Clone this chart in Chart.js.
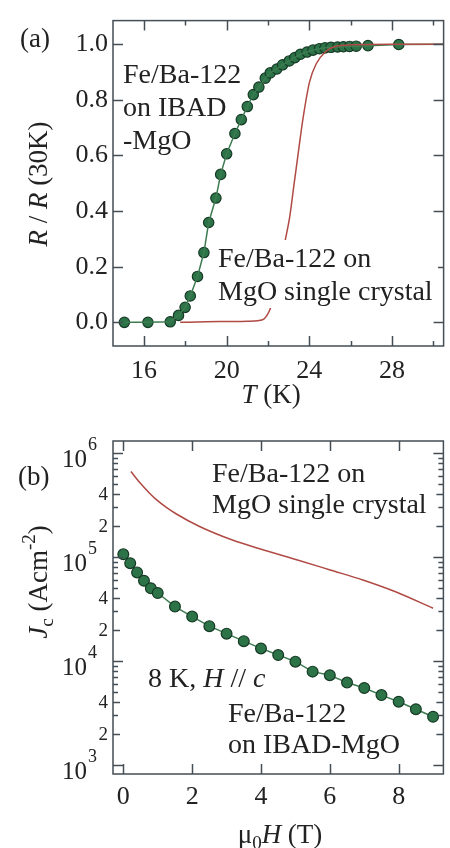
<!DOCTYPE html>
<html>
<head>
<meta charset="utf-8">
<script src="https://cdn.jsdelivr.net/npm/chart.js@4.4.1/dist/chart.umd.min.js"></script>
<style>
  html, body { margin: 0; padding: 0; background: #fff; }
  #wrap { position: relative; width: 450px; height: 848px; }
  canvas { position: absolute; left: 0; }
  #chartA { top: 0; }
  #chartB { top: 424px; }
</style>
</head>
<body>
<div id="wrap">
  <canvas id="chartA" width="450" height="424"></canvas>
  <canvas id="chartB" width="450" height="424"></canvas>
</div>
<script>
// --- panel (a): R / R(30K) vs T ---
const tempIbad = [15.05, 16.19, 17.27, 17.67, 17.99, 18.24, 18.59, 18.90, 19.13, 19.48, 19.71, 20.00, 20.40, 20.71, 21.00, 21.29, 21.56, 21.87, 22.11, 22.43, 22.71, 23.03, 23.30, 23.57, 23.89, 24.18, 24.49, 24.76, 25.05, 25.37, 25.65, 25.95, 26.27, 26.84, 28.33];
const resIbad = [0.000, 0.000, 0.002, 0.025, 0.054, 0.095, 0.165, 0.251, 0.359, 0.447, 0.532, 0.606, 0.679, 0.729, 0.776, 0.819, 0.846, 0.878, 0.897, 0.911, 0.926, 0.940, 0.952, 0.964, 0.972, 0.979, 0.984, 0.987, 0.989, 0.990, 0.991, 0.992, 0.993, 0.995, 0.999];
const ibadTailT = [30.5];
const ibadTailR = [1.0];

const tempCrystal = [17.75, 19.0, 20.0, 21.0, 21.5, 21.8, 21.95, 22.11, 22.3, 22.55, 22.82, 23.06, 23.25, 23.46, 23.7, 24.01, 24.33, 24.81, 25.29, 26.0, 28.0, 30.5];
const resCrystal = [0.000, 0.002, 0.003, 0.004, 0.006, 0.012, 0.025, 0.049, 0.100, 0.180, 0.289, 0.383, 0.490, 0.606, 0.735, 0.864, 0.929, 0.975, 0.993, 0.998, 1.000, 1.000];

const tempTicks = [16, 18, 20, 22, 24, 26, 28, 30];
const resTicks = [0, 0.2, 0.4, 0.6, 0.8, 1.0];

// --- panel (b): Jc vs mu0H at 8 K ---
const fieldIbad = [0, 0.2, 0.4, 0.6, 0.8, 1.0, 1.5, 2, 2.5, 3, 3.5, 4, 4.5, 5, 5.5, 6, 6.5, 7, 7.5, 8, 8.5, 9];
const jcIbad = [1.06e5, 8.7e4, 7.1e4, 5.9e4, 5.0e4, 4.5e4, 3.33e4, 2.67e4, 2.16e4, 1.83e4, 1.55e4, 1.32e4, 1.14e4, 9.85e3, 7.9e3, 7.3e3, 6.2e3, 5.5e3, 4.7e3, 4.06e3, 3.44e3, 2.91e3];

const fieldCrystal = [0.22, 0.49, 0.77, 0.96, 1.25, 1.53, 2.2, 3.15, 4.1, 5.06, 6.01, 6.96, 7.91, 9.0];
const jcCrystal = [6.61e5, 5.13e5, 4.07e5, 3.55e5, 2.99e5, 2.60e5, 1.97e5, 1.46e5, 1.16e5, 9.35e4, 7.5e4, 6.01e4, 4.63e4, 3.21e4];

const fieldTicks = [0, 2, 4, 6, 8];
const jcDecades = [1e3, 1e4, 1e5, 1e6];

// --- estilos ---
const SERIF = '"Liberation Serif", "Times New Roman", serif';
const axisColor = '#434e56';
const textColor = '#222';
const greenFill = '#2c7448';
const greenEdge = '#163a25';
const greenLine = '#3d7c51';
const redLine = '#b04a44';

function pts(xs, ys) { return xs.map((x, i) => ({ x: x, y: ys[i] })); }

function fontFor(r, size) {
  return (r.i ? 'italic ' : '') + Math.round(size * (r.s || 1)) + 'px ' + SERIF;
}

// dibuja texto con partes en cursiva / sub / superíndice
function drawRuns(ctx, x, y, runs, size, align) {
  let w = 0;
  runs.forEach(r => { ctx.font = fontFor(r, size); w += ctx.measureText(r.t).width; });
  let cx = align === 'center' ? x - w / 2 : x;
  ctx.textAlign = 'left';
  ctx.textBaseline = 'alphabetic';
  runs.forEach(r => {
    ctx.font = fontFor(r, size);
    ctx.fillText(r.t, cx, y + (r.dy || 0));
    cx += ctx.measureText(r.t).width;
  });
}

// marco + marcas hacia dentro en los cuatro lados
const framePlugin = {
  id: 'frame',
  afterDraw(chart, args, opts) {
    const { ctx, chartArea: a, scales } = chart;
    ctx.save();
    ctx.strokeStyle = axisColor;
    ctx.lineWidth = 1.5;
    ctx.beginPath();
    scales.x.ticks.forEach(t => {
      const px = Math.round(scales.x.getPixelForValue(t.value)) + 0.5;
      const len = opts.xLen(t.value);
      ctx.moveTo(px, a.bottom); ctx.lineTo(px, a.bottom - len);
      ctx.moveTo(px, a.top); ctx.lineTo(px, a.top + len);
    });
    scales.y.ticks.forEach(t => {
      const py = Math.round(scales.y.getPixelForValue(t.value)) + 0.5;
      const len = opts.yLen(t.value);
      ctx.moveTo(a.left, py); ctx.lineTo(a.left + len, py);
      ctx.moveTo(a.right, py); ctx.lineTo(a.right - len, py);
    });
    ctx.stroke();
    ctx.strokeRect(a.left, a.top, a.right - a.left, a.bottom - a.top);
    ctx.restore();
  }
};

// textos: títulos de ejes, etiquetas y anotaciones
const textPlugin = {
  id: 'texts',
  afterDraw(chart, args, opts) {
    const ctx = chart.ctx;
    ctx.save();
    ctx.fillStyle = textColor;
    (opts.items || []).forEach(it => {
      ctx.save();
      if (it.box) {
        ctx.fillStyle = '#fff';
        ctx.fillRect(it.box[0], it.box[1], it.box[2], it.box[3]);
        ctx.fillStyle = textColor;
      }
      if (it.rotate) {
        ctx.translate(it.x, it.y);
        ctx.rotate(-Math.PI / 2);
        drawRuns(ctx, 0, 0, it.runs, it.size, it.align);
      } else {
        drawRuns(ctx, it.x, it.y, it.runs, it.size, it.align);
      }
      ctx.restore();
    });
    if (opts.logLabels) opts.logLabels(chart, ctx);
    ctx.restore();
  }
};

// ---------- panel (a) ----------
const chartA = new Chart(document.getElementById('chartA'), {
  type: 'scatter',
  data: {
    datasets: [
      {
        label: 'crystal',
        data: pts(tempCrystal, resCrystal),
        showLine: true,
        borderColor: redLine,
        borderWidth: 1.5,
        pointRadius: 0,
        cubicInterpolationMode: 'monotone'
      },
      {
        label: 'ibad-line',
        data: pts(tempIbad.concat(ibadTailT), resIbad.concat(ibadTailR)),
        showLine: true,
        borderColor: greenLine,
        borderWidth: 1.5,
        pointRadius: 0
      },
      {
        label: 'ibad',
        data: pts(tempIbad, resIbad),
        showLine: false,
        backgroundColor: greenFill,
        borderColor: greenEdge,
        borderWidth: 1.2,
        pointRadius: 5.2
      }
    ]
  },
  options: {
    responsive: false,
    animation: false,
    layout: { padding: { left: 0, right: 1, top: 13, bottom: 0 } },
    plugins: {
      legend: { display: false },
      tooltip: { enabled: false },
      frame: {
        xLen: v => (v % 4 === 0 ? 10 : 5),
        yLen: v => 10
      },
      texts: {
        items: [
          { x: 20, y: 47, runs: [{ t: '(a)' }], size: 27 },
          { x: 271, y: 403, runs: [{ t: 'T', i: true }, { t: ' (K)' }], size: 27, align: 'center' },
          { x: 47, y: 184, rotate: true, align: 'center', size: 27,
            runs: [{ t: 'R', i: true }, { t: ' / ' }, { t: 'R', i: true }, { t: ' (30K)' }] },
          { x: 123, y: 83, runs: [{ t: 'Fe/Ba-122' }], size: 28 },
          { x: 123, y: 116, runs: [{ t: 'on IBAD' }], size: 28 },
          { x: 123, y: 149, runs: [{ t: '-MgO' }], size: 28 },
          { x: 218, y: 267, runs: [{ t: 'Fe/Ba-122 on' }], size: 28, box: [214, 240, 224, 68] },
          { x: 218, y: 300, runs: [{ t: 'MgO single crystal' }], size: 28 }
        ]
      }
    },
    scales: {
      x: {
        type: 'linear',
        min: 14.5,
        max: 30.5,
        grid: { display: false, drawTicks: false },
        border: { display: false },
        afterBuildTicks: s => { s.ticks = tempTicks.map(v => ({ value: v })); },
        afterFit: s => { s.height = 78; },
        ticks: {
          autoSkip: false,
          maxRotation: 0,
          padding: 10,
          color: textColor,
          font: { family: SERIF, size: 26 },
          callback: v => (v % 4 === 0 ? String(v) : '')
        }
      },
      y: {
        type: 'linear',
        min: -0.085,
        max: 1.085,
        grid: { display: false, drawTicks: false },
        border: { display: false },
        afterBuildTicks: s => { s.ticks = resTicks.map(v => ({ value: v })); },
        afterFit: s => { s.width = 113; },
        ticks: {
          autoSkip: false,
          padding: 5,
          color: textColor,
          font: { family: SERIF, size: 26 },
          callback: v => v.toFixed(1)
        }
      }
    }
  },
  plugins: [framePlugin, textPlugin]
});

// ---------- panel (b) ----------
const jcTicks = [];
jcDecades.forEach(d => {
  for (let m = 1; m <= 9; m++) {
    if (d * m <= 1e6) jcTicks.push(d * m);
  }
});

function mantissa(v) {
  const e = Math.floor(Math.log10(v) + 1e-9);
  return Math.round(v / Math.pow(10, e));
}

// etiquetas del eje log: 10^n y los 2, 4 pequeños
function drawLogLabels(chart, ctx) {
  const y = chart.scales.y;
  ctx.fillStyle = textColor;
  jcTicks.forEach(v => {
    const py = y.getPixelForValue(v);
    const m = mantissa(v);
    if (m === 1) {
      const exp = Math.round(Math.log10(v));
      ctx.textBaseline = 'alphabetic';
      ctx.textAlign = 'right';
      ctx.font = '25px ' + SERIF;
      ctx.fillText('10', 87, py + 14);
      ctx.textAlign = 'left';
      ctx.font = '18px ' + SERIF;
      ctx.fillText(String(exp), 88, py - 3);
    } else if (m === 2 || m === 4) {
      ctx.textAlign = 'right';
      ctx.textBaseline = 'middle';
      ctx.font = '19px ' + SERIF;
      ctx.fillText(String(m), 108, py + 1);
    }
  });
}

const chartB = new Chart(document.getElementById('chartB'), {
  type: 'scatter',
  data: {
    datasets: [
      {
        label: 'crystal',
        data: pts(fieldCrystal, jcCrystal),
        showLine: true,
        borderColor: redLine,
        borderWidth: 1.5,
        pointRadius: 0,
        cubicInterpolationMode: 'monotone'
      },
      {
        label: 'ibad',
        data: pts(fieldIbad, jcIbad),
        showLine: true,
        borderColor: greenLine,
        borderWidth: 1.5,
        backgroundColor: greenFill,
        pointBorderColor: greenEdge,
        pointBorderWidth: 1.2,
        pointRadius: 5.4
      }
    ]
  },
  options: {
    responsive: false,
    animation: false,
    layout: { padding: { left: 0, right: 2, top: 17, bottom: 0 } },
    plugins: {
      legend: { display: false },
      tooltip: { enabled: false },
      frame: {
        xLen: v => 10,
        yLen: v => {
          const m = mantissa(v);
          return m === 1 ? 10 : (m === 2 || m === 4 ? 7 : 5);
        }
      },
      texts: {
        items: [
          { x: 18, y: 61, runs: [{ t: '(b)' }], size: 27 },
          { x: 280, y: 419, align: 'center', size: 27,
            runs: [{ t: 'μ' }, { t: '0', s: 0.7, dy: 6 }, { t: 'H', i: true }, { t: ' (T)' }] },
          { x: 47, y: 158, rotate: true, align: 'center', size: 27,
            runs: [{ t: 'J', i: true }, { t: 'c', s: 0.7, dy: 6 }, { t: ' (Acm' }, { t: '-2', s: 0.7, dy: -12 }, { t: ')' }] },
          { x: 212, y: 58, runs: [{ t: 'Fe/Ba-122 on' }], size: 28 },
          { x: 212, y: 89, runs: [{ t: 'MgO single crystal' }], size: 28 },
          { x: 148, y: 263, size: 28,
            runs: [{ t: '8 K, ' }, { t: 'H', i: true }, { t: ' // ' }, { t: 'c', i: true }] },
          { x: 228, y: 298, runs: [{ t: 'Fe/Ba-122' }], size: 28 },
          { x: 228, y: 329, runs: [{ t: 'on IBAD-MgO' }], size: 28 }
        ],
        logLabels: drawLogLabels
      }
    },
    scales: {
      x: {
        type: 'linear',
        min: -0.3,
        max: 9.3,
        grid: { display: false, drawTicks: false },
        border: { display: false },
        afterBuildTicks: s => { s.ticks = fieldTicks.map(v => ({ value: v })); },
        afterFit: s => { s.height = 74; },
        ticks: {
          autoSkip: false,
          maxRotation: 0,
          padding: 8,
          color: textColor,
          font: { family: SERIF, size: 26 },
          callback: v => String(v)
        }
      },
      y: {
        type: 'logarithmic',
        min: 820,
        max: 1.3e6,
        grid: { display: false, drawTicks: false },
        border: { display: false },
        afterBuildTicks: s => { s.ticks = jcTicks.map(v => ({ value: v })); },
        afterFit: s => { s.width = 113; },
        ticks: { display: false, autoSkip: false }
      }
    }
  },
  plugins: [framePlugin, textPlugin]
});
</script>
</body>
</html>
